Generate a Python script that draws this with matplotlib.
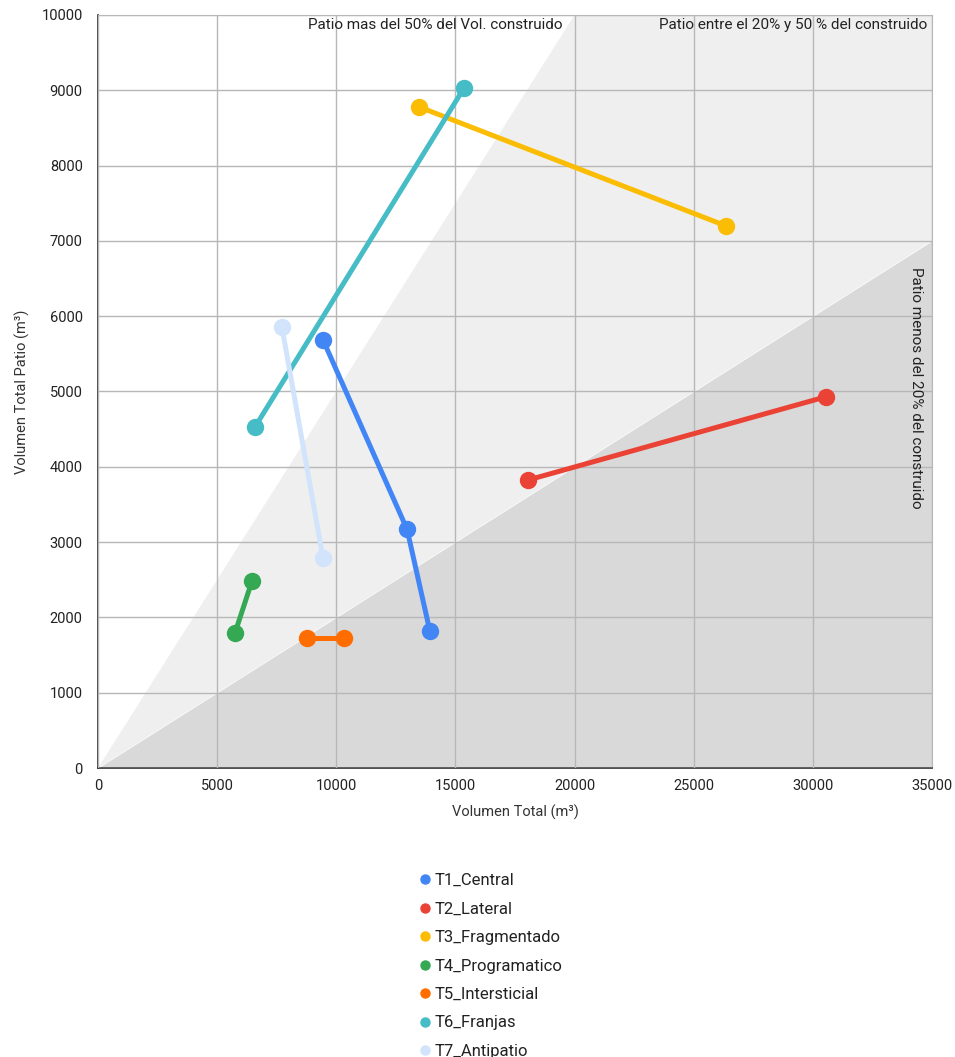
import matplotlib
matplotlib.use("Agg")
import matplotlib.pyplot as plt
import numpy as np
from matplotlib.lines import Line2D

# series: (volumen total, volumen patio)
t1_x = [9450, 12970, 13930]
t1_y = [5680, 3170, 1815]
t2_x = [18050, 30550]
t2_y = [3825, 4930]
t3_x = [13470, 26350]
t3_y = [8780, 7200]
t4_x = [5750, 6460]
t4_y = [1795, 2480]
t5_x = [8770, 10320]
t5_y = [1727, 1727]
t6_x = [6590, 15360]
t6_y = [4530, 9030]
t7_x = [7720, 9440]
t7_y = [5855, 2790]

series = [
    ("T1_Central", t1_x, t1_y, "#4285f4"),
    ("T2_Lateral", t2_x, t2_y, "#ea4335"),
    ("T3_Fragmentado", t3_x, t3_y, "#fbbc04"),
    ("T4_Programatico", t4_x, t4_y, "#34a853"),
    ("T5_Intersticial", t5_x, t5_y, "#ff6d01"),
    ("T6_Franjas", t6_x, t6_y, "#46bdc6"),
    ("T7_Antipatio", t7_x, t7_y, "#d2e3fc"),
]

x_max = 35000
y_max = 10000
upper_ratio = 0.5   # patio / volumen total
lower_ratio = 0.2

plt.rcParams["font.family"] = ["Roboto", "DejaVu Sans"]

fig = plt.figure(figsize=(9.55, 10.57), dpi=100)
ax = fig.add_axes([98 / 955, 1 - 768 / 1057, 834 / 955, 753 / 1057])

xs = np.array([0, x_max])
ax.fill_between(xs, lower_ratio * xs, upper_ratio * xs, color="#efefef", lw=0, zorder=0)
ax.fill_between(xs, 0, lower_ratio * xs, color="#d9d9d9", lw=0, zorder=0)

ax.set_xlim(0, x_max)
ax.set_ylim(0, y_max)
ax.set_xticks(np.arange(0, x_max + 1, 5000))
ax.set_yticks(np.arange(0, y_max + 1, 1000))
ax.grid(True, color="#b7b7b7", lw=1, zorder=1)
ax.set_axisbelow(False)
for side in ["top", "right"]:
    ax.spines[side].set_color("#b7b7b7")
for side in ["left", "bottom"]:
    ax.spines[side].set_color("#333333")
    ax.spines[side].set_linewidth(1.2)
ax.tick_params(length=0, labelsize=10.5, colors="#222222", pad=8)
ax.tick_params(axis="y", pad=11)

for name, x, y, c in series:
    ax.plot(x, y, color=c, lw=3.6, marker="o", ms=11.5, zorder=3, solid_capstyle="round")

ax.set_xlabel("Volumen Total (m³)", fontsize=10.5, color="#333333", labelpad=8)
ax.set_ylabel("Volumen Total Patio (m³)", fontsize=10.5, color="#333333", labelpad=8)

ax.text(14140, 9960, "Patio mas del 50% del Vol. construido", ha="center", va="top",
        fontsize=11, color="#222222", zorder=4)
ax.text(34800, 9960, "Patio entre el 20% y 50 % del construido", ha="right", va="top",
        fontsize=11, color="#222222", zorder=4)
ax.text(34330, 5050, "Patio menos del 20% del construido", ha="center", va="center",
        rotation=-90, fontsize=11, color="#222222", zorder=4)

handles = [Line2D([], [], ls="none", marker="o", ms=6.5, color=c) for _, _, _, c in series]
labels = [s[0] for s in series]
fig.legend(handles, labels, loc="upper left", bbox_to_anchor=(412 / 955, 1 - 868 / 1057),
           frameon=False, fontsize=12, handletextpad=0.05, labelspacing=0.81,
           handlelength=1.0, labelcolor="#222222", borderaxespad=0, borderpad=0.3)

fig.savefig("out.png", dpi=100)
